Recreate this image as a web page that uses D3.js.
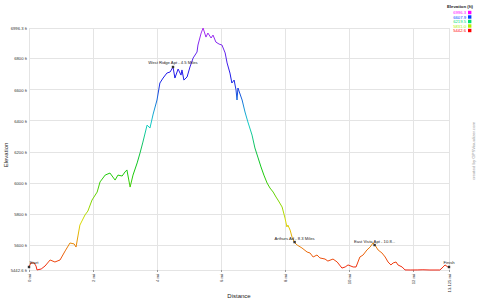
<!DOCTYPE html>
<html><head><meta charset="utf-8">
<script src="https://cdn.jsdelivr.net/npm/d3@7"></script>
<style>body{margin:0;background:#fff}svg{display:block}text{font-family:"Liberation Sans",Arial,sans-serif}</style>
</head><body>
<svg id="c" width="478" height="300"></svg>
<script>
const distance = [0.00,0.06,0.16,0.22,0.25,0.38,0.50,0.66,0.81,0.97,1.13,1.28,1.41,1.47,1.53,1.59,1.75,1.84,1.97,2.13,2.22,2.38,2.53,2.69,2.78,2.91,3.00,3.06,3.16,3.25,3.38,3.47,3.56,3.69,3.78,3.88,4.00,4.09,4.19,4.31,4.41,4.50,4.56,4.66,4.75,4.78,4.84,4.94,5.03,5.13,5.25,5.28,5.38,5.44,5.53,5.59,5.69,5.75,5.84,5.94,6.03,6.13,6.19,6.28,6.34,6.41,6.47,6.50,6.53,6.66,6.75,6.84,6.97,7.06,7.16,7.25,7.34,7.44,7.53,7.63,7.72,7.78,7.91,8.00,8.06,8.09,8.16,8.22,8.30,8.38,8.53,8.69,8.78,8.88,9.00,9.09,9.25,9.34,9.50,9.63,9.78,9.88,9.97,10.13,10.22,10.34,10.44,10.56,10.66,10.75,10.81,10.91,11.03,11.13,11.22,11.31,11.38,11.47,11.53,11.66,11.75,11.91,12.13,12.31,12.53,12.84,12.94,13.00,13.09,13.125];
const elevation = [5462,5488,5488,5468,5443,5449,5468,5507,5494,5507,5565,5616,5610,5590,5661,5731,5796,5821,5892,5943,6008,6052,6065,6020,6052,6046,6072,6085,5975,6052,6130,6194,6264,6373,6354,6444,6534,6643,6675,6707,6714,6746,6675,6733,6694,6727,6662,6682,6746,6804,6842,6887,6964,6996.3,6938,6964,6932,6951,6906,6893,6887,6836,6772,6707,6643,6662,6598,6534,6611,6534,6457,6393,6309,6226,6162,6104,6052,6001,5969,5943,5911,5892,5847,5776,5719,5731,5699,5654,5618,5603,5584,5558,5552,5526,5539,5520,5513,5500,5513,5494,5455,5462,5475,5462,5462,5526,5539,5571,5590,5616,5603,5571,5552,5526,5494,5475,5488,5494,5475,5462,5443,5442.6,5443,5444,5442.6,5442.6,5462,5475,5462,5455];
const yTicks = [5442.6,5600,5800,6000,6200,6400,6600,6800,6996.3];
const yTickLabels = ["5442.6 ft","5600 ft","5800 ft","6000 ft","6200 ft","6400 ft","6600 ft","6800 ft","6996.3 ft"];
const xTicks = [0,2,4,6,8,10,12,13.125];
const xTickLabels = ["0 mi","2 mi","4 mi","6 mi","8 mi","10 mi","12 mi","13.125 mi"];
const legendValues = [6996.3,6607.9,6219.5,5831.0,5442.6];
const legendLabels = ["6996.3","6607.9","6219.5","5831.0","5442.6"];
const legendColors = ["#ff00ff","#0040ff","#00e070","#b0f000","#ff0000"];
const lineColors = ["#b030f0","#1838e0","#10c050","#a0d800","#f02010"];
const annotNames = ["Start","West Ridge Apt - 4.5 Miles","Arthurs Ad - 8.3 Miles","East Vista Apt - 10.8...","Finish"];
const annotDist = [0,4.5,8.3,10.8,13.125];
const annotElev = [5462,6746,5622,5603,5462];

const svg = d3.select("#c");
const x = d3.scaleLinear().domain([0,13.125]).range([29,449]);
const y = d3.scaleLinear().domain([5442.6,6996.3]).range([270,28]);
const grid = "#e4e4e4";

// gridlines
svg.append("g").selectAll("line").data(yTicks).join("line")
  .attr("x1",29).attr("x2",449).attr("y1",d=>y(d)).attr("y2",d=>y(d))
  .attr("stroke",grid).attr("stroke-width",1).attr("shape-rendering","crispEdges");
svg.append("g").selectAll("line").data(xTicks).join("line")
  .attr("y1",28).attr("y2",270).attr("x1",d=>x(d)).attr("x2",d=>x(d))
  .attr("stroke",grid).attr("stroke-width",1).attr("shape-rendering","crispEdges");

// y axis labels
const yAxis = d3.axisLeft(y).tickValues(yTicks).tickFormat((d,i)=>yTickLabels[i]).tickSize(0).tickPadding(2);
const ya = svg.append("g").attr("transform","translate(29,0)").call(yAxis);
ya.select(".domain").remove();
ya.selectAll("text").attr("font-size",4.2).attr("fill","#333").style("font-family","Liberation Sans, Arial, sans-serif");

// x axis labels (rotated)
const xAxis = d3.axisBottom(x).tickValues(xTicks).tickFormat((d,i)=>xTickLabels[i]).tickSize(2).tickPadding(2);
const xa = svg.append("g").attr("transform","translate(0,270)").call(xAxis);
xa.select(".domain").remove();
xa.selectAll("line").attr("stroke","#999");
xa.selectAll("text").attr("font-size",4.2).attr("fill","#333")
  .attr("transform","rotate(-90)").attr("text-anchor","end")
  .attr("x",-4).attr("y",0).attr("dy","0.35em").style("font-family","Liberation Sans, Arial, sans-serif");

// gradient
const colorScale = d3.scaleLinear().domain(legendValues).range(lineColors).interpolate(d3.interpolateHsl);
const defs = svg.append("defs");
const grad = defs.append("linearGradient").attr("id","elev").attr("gradientUnits","userSpaceOnUse")
  .attr("x1",0).attr("x2",0).attr("y1",y(5442.6)).attr("y2",y(6996.3));
d3.range(0,1.0001,0.05).forEach(t=>{
  grad.append("stop").attr("offset",t).attr("stop-color",colorScale(5442.6+t*(6996.3-5442.6)));
});

const data = distance.map((d,i)=>[d,elevation[i]]);
svg.append("path").datum(data)
  .attr("d",d3.line().x(d=>x(d[0])).y(d=>y(d[1])))
  .attr("fill","none").attr("stroke","url(#elev)").attr("stroke-width",1).attr("stroke-linejoin","round");

// annotations
annotNames.forEach((n,i)=>{
  const px = x(annotDist[i]), py = y(annotElev[i]);
  svg.append("rect").attr("x",px-1.2).attr("y",py-1.2).attr("width",2.4).attr("height",2.4).attr("fill","#333");
  let anchor = "middle", tx = px;
  if (i===0) { anchor="start"; tx = px+0.5; }
  if (i===4) { anchor="middle"; tx = px; }
  svg.append("text").attr("x",tx).attr("y",py-2.5).attr("text-anchor",anchor)
    .attr("font-size",4.2).attr("fill","#222").text(n);
});

// axis titles
svg.append("text").attr("x",239).attr("y",298).attr("text-anchor","middle").attr("font-size",6).attr("fill","#222").text("Distance");
svg.append("text").attr("transform","translate(8,155) rotate(-90)").attr("text-anchor","middle").attr("font-size",6).attr("fill","#222").text("Elevation");

// credit
svg.append("text").attr("transform","translate(475,151) rotate(-90)").attr("text-anchor","middle").attr("font-size",4.3).attr("fill","#999").text("created by GPSVisualizer.com");

// legend
svg.append("text").attr("x",473).attr("y",7.5).attr("text-anchor","end").attr("font-size",4.3).attr("font-weight","bold").attr("fill","#222").text("Elevation (ft)");
const lg = svg.append("g");
legendLabels.forEach((l,i)=>{
  const ly = 12.5 + i*4.5;
  lg.append("text").attr("x",466).attr("y",ly+1.5).attr("text-anchor","end").attr("font-size",4.2).attr("fill",legendColors[i]).text(l);
  lg.append("rect").attr("x",468).attr("y",ly-1.7).attr("width",3.4).attr("height",3.4).attr("fill",legendColors[i]);
});
</script>
</body></html>
